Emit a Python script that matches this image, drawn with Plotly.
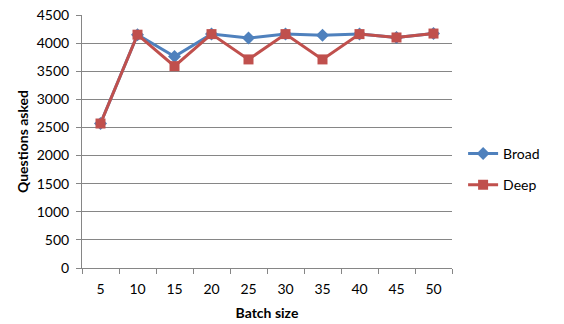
import plotly.graph_objects as go

# Batch sizes (category axis) and questions asked per strategy
batch_sizes = ["5", "10", "15", "20", "25", "30", "35", "40", "45", "50"]
broad = [2570, 4150, 3760, 4160, 4090, 4160, 4140, 4160, 4100, 4170]
deep = [2570, 4150, 3590, 4160, 3710, 4160, 3710, 4160, 4100, 4170]
y_ticks = [0, 500, 1000, 1500, 2000, 2500, 3000, 3500, 4000, 4500]

FONT = "Lato, Liberation Sans, sans-serif"
GRID = "#868686"

fig = go.Figure()
fig.add_trace(go.Scatter(
    x=batch_sizes, y=broad, name="Broad", mode="lines+markers",
    legendgroup="broad",
    line=dict(color="#4F81BD", width=3),
    marker=dict(symbol="diamond", size=10, color="#4F81BD"),
))
fig.add_trace(go.Scatter(
    x=batch_sizes, y=deep, name="Deep", mode="lines+markers",
    legendgroup="deep",
    line=dict(color="#C0504D", width=3),
    marker=dict(symbol="square", size=10, color="#C0504D"),
))

fig.update_layout(
    width=564, height=324,
    margin=dict(l=82, r=112, t=15, b=56, autoexpand=False),
    paper_bgcolor="white", plot_bgcolor="white",
    font=dict(family=FONT, size=14, color="#000000"),
    showlegend=True,
    legend=dict(
        x=1.03, y=0.39, xanchor="left", yanchor="middle",
        font=dict(family=FONT, size=14),
        itemwidth=30, tracegroupgap=10,
        bgcolor="rgba(0,0,0,0)",
    ),
    xaxis=dict(
        type="category", range=[-0.5, 9.5],
        title=dict(text="<b>Batch size</b>", font=dict(size=14), standoff=12),
        showline=True, linecolor=GRID, linewidth=1,
        ticks="outside", ticklen=5, tickcolor=GRID, tickson="boundaries",
        ticklabelstandoff=8,
        showgrid=False, zeroline=False,
        tickfont=dict(size=14),
    ),
    yaxis=dict(
        title=dict(text="<b>Questions asked</b>", font=dict(size=14), standoff=4),
        range=[0, 4500], tickvals=y_ticks,
        showline=True, linecolor=GRID, linewidth=1,
        ticks="outside", ticklen=5, tickcolor=GRID,
        ticklabelstandoff=4,
        showgrid=True, gridcolor=GRID, gridwidth=1,
        zeroline=False,
        tickfont=dict(size=14),
    ),
)

fig.write_html("out.html")
